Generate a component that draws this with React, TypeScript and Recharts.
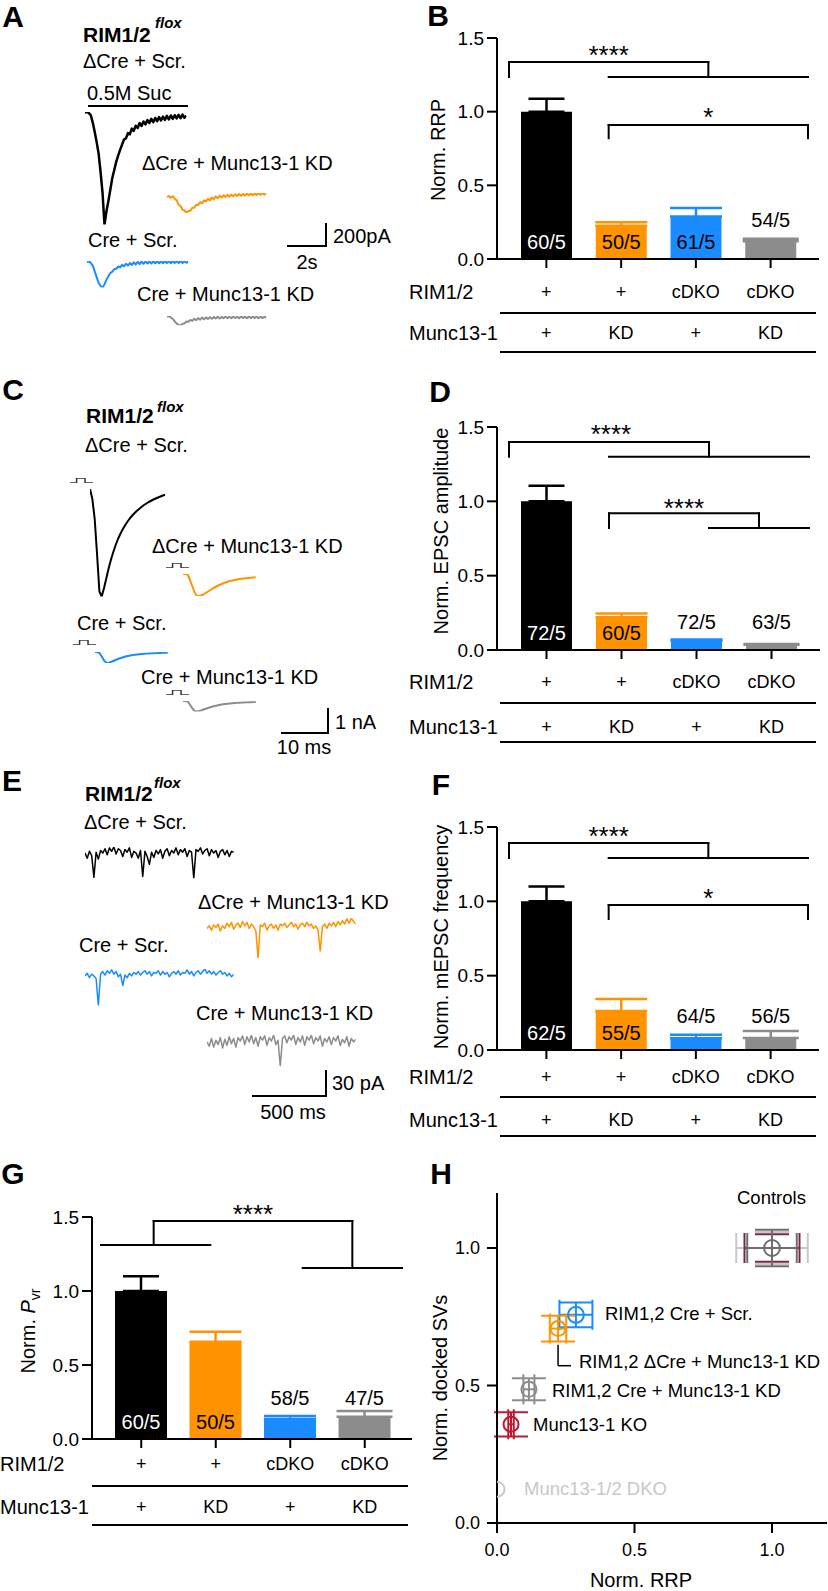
import React from "react";
import {
  BarChart,
  Bar,
  XAxis,
  YAxis,
  ErrorBar,
  LabelList,
  ReferenceLine,
  ReferenceDot,
  LineChart,
  Line,
  ScatterChart,
  Scatter,
} from "recharts";

const FONT = '"Liberation Sans", Arial, Helvetica, sans-serif';

const BLACK = "#000000";
const ORANGE = "#ff9300";
const BLUE = "#1a8cff";
const GRAY = "#8c8c8c";
const BAR_COLORS = [BLACK, ORANGE, BLUE, GRAY];
const INSIDE_TEXT = ["#ffffff", "#000000", "#000000", "#000000"];
const CAP_WIDTHS = [18, 26, 26, 28];

// ---------- groups (same for every bar graph) ----------
const groups = ["ctrl", "munc13kd", "rimcdko", "rimcdkoMunc13kd"];
const rimRow = ["+", "+", "cDKO", "cDKO"];
const muncRow = ["+", "KD", "+", "KD"];

// B: RRP
const rrpMean = [1.0, 0.226, 0.288, 0.12];
const rrpSem = [0.088, 0.024, 0.058, 0.018];
const rrpN = ["60/5", "50/5", "61/5", "54/5"];
const rrpInside = [true, true, true, false];
const rrpBrackets = [
  [0, 1.235, 0, 1.337], [0, 1.337, 2, 1.337], [2, 1.337, 2, 1.235], [1, 1.235, 3, 1.235],
  [1, 0.82, 1, 0.91], [1, 0.91, 3, 0.91], [3, 0.91, 3, 0.82],
];
const rrpStars = [
  { x: 1, y: 1.425, text: "****" },
  { x: 2, y: 1.005, text: "*" },
];

// D: EPSC amplitude
const epscMean = [1.0, 0.22, 0.063, 0.035];
const epscSem = [0.105, 0.025, 0.007, 0.005];
const epscN = ["72/5", "60/5", "72/5", "63/5"];
const epscInside = [true, true, false, false];
const epscBrackets = [
  [0, 1.3, 0, 1.399], [0, 1.399, 2, 1.399], [2, 1.399, 2, 1.3], [1, 1.3, 3, 1.3],
  [1, 0.82, 1, 0.92], [1, 0.92, 2.5, 0.92], [2.5, 0.92, 2.5, 0.82], [2, 0.82, 3, 0.82],
];
const epscStars = [
  { x: 1.02, y: 1.493, text: "****" },
  { x: 1.75, y: 0.995, text: "****" },
];

// F: mEPSC frequency
const miniMean = [1.0, 0.262, 0.079, 0.08];
const miniSem = [0.1, 0.081, 0.024, 0.048];
const miniN = ["62/5", "55/5", "64/5", "56/5"];
const miniInside = [true, true, false, false];
const miniBrackets = [
  [0, 1.291, 0, 1.392], [0, 1.392, 2, 1.392], [2, 1.392, 2, 1.291], [1, 1.291, 3, 1.291],
  [1, 0.881, 1, 0.975], [1, 0.975, 3, 0.975], [3, 0.975, 3, 0.881],
];
const miniStars = [
  { x: 1, y: 1.48, text: "****" },
  { x: 2, y: 1.063, text: "*" },
];

// G: Pvr
const pvrMean = [1.0, 0.657, 0.135, 0.15];
const pvrSem = [0.1, 0.068, 0.02, 0.04];
const pvrN = ["60/5", "50/5", "58/5", "47/5"];
const pvrInside = [true, true, false, false];
const pvrBrackets = [
  [-0.03, 1.311, 1.07, 1.311], [0.5, 1.311, 0.5, 1.473], [0.5, 1.473, 2.5, 1.473],
  [2.5, 1.473, 2.5, 1.155], [2, 1.155, 3, 1.155],
];
const pvrStars = [{ x: 1.5, y: 1.56, text: "****" }];

// H: docked SVs vs RRP
const dockNames = ["ctrlA", "ctrlB", "ctrlC", "creScr", "dCreKd", "creKd", "m13ko", "m13dko"];
const dockRrp = [1, 1, 1, 0.287, 0.222, 0.116, 0.051, 0.0];
const dockSvs = [1, 1, 1, 0.757, 0.707, 0.486, 0.359, 0.123];
const dockRrpErr = [0.13, 0.1, 0.09, 0.06, 0.03, 0.02, 0.01, null];
const dockSvsErr = [0.058, 0.05, 0.066, 0.045, 0.047, 0.04, 0.044, null];
const dockColors = ["#c8c8c8", "#7b2a3c", "#6e6e6e", BLUE, ORANGE, GRAY, "#c0182f", "#c8c8c8"];
const dockRadius = [0, 0, 8, 8, 7.5, 7.5, 7.5, 7.5];

// ---------- traces ----------
// A: sucrose responses, pA, every 0.1 s
const sucDt = 0.1;
const sucCtrl = [0, 4, -6, -25, -90, -170, -260, -360, -520, -700, -975, -860, -770, -670, -570, -500, -430, -375, -325, -280, -235,
  -225, -180, -190, -140, -160, -115, -135, -92, -118, -78, -104, -66, -92, -56, -84, -48, -76, -40, -70, -36, -64, -30, -60, -26, -56, -24, -52, -20, -50, -18, -46, -28];
const sucKd = [0, 10, -6, 8, -14, -30, -66, -80, -112, -115, -138, -120, -118, -92, -92, -66, -68, -44, -52, -28, -38, -14, -28, -4, -18, 6,
  -10, 12, -4, 16, 2, 20, 4, 22, 8, 24, 10, 28, 12, 28, 14, 30, 16, 32, 16, 34, 18, 34, 20, 36, 22, 30];
const sucCre = [0, 10, -6, -30, -80, -130, -180, -205, -218, -190, -150, -118, -92, -80, -58, -56, -36, -44, -22, -34, -12, -28, -6, -22, 0,
  -18, 4, -14, 6, -12, 8, -10, 8, -10, 10, -8, 10, -8, 10, -8, 12, -6, 10, -8, 12, -6, 10, -6, 12, -6, 10, -4, 6];
const sucCreKd = [0, 8, -6, -18, -40, -58, -70, -72, -60, -56, -40, -42, -26, -34, -16, -28, -10, -24, -6, -20, -4, -18, -2, -16, 0, -14,
  2, -14, 0, -12, 4, -12, 2, -12, 4, -10, 2, -12, 4, -10, 2, -12, 4, -10, 2, -10, 4, -12, 2, -10, 2, -8];

// C: evoked EPSCs, nA, every 0.5 ms
const epscDt = 0.5;
const epscCtrl = [0, -0.4, -1.2, -2.6, -4.1, -4.3, -3.95, -3.55, -3.15, -2.8, -2.5, -2.22, -1.98, -1.78, -1.6, -1.44, -1.3, -1.17, -1.06,
  -0.96, -0.87, -0.79, -0.71, -0.64, -0.58, -0.52, -0.47, -0.42, -0.38, -0.34, -0.3, -0.26, -0.23];
const epscKd = [0, 0, -0.02, -0.25, -0.5, -0.75, -0.88, -0.88, -0.85, -0.8, -0.74, -0.68, -0.62, -0.56, -0.51, -0.46, -0.42, -0.38, -0.34,
  -0.31, -0.28, -0.26, -0.24, -0.22, -0.2, -0.19, -0.18, -0.17, -0.16, -0.15, -0.14, -0.13];
const epscCre = [0, 0, -0.05, -0.2, -0.36, -0.44, -0.43, -0.39, -0.35, -0.31, -0.27, -0.24, -0.21, -0.18, -0.16, -0.14, -0.12, -0.11, -0.1,
  -0.09, -0.08, -0.07, -0.065, -0.06, -0.055, -0.05, -0.045, -0.04, -0.04, -0.035, -0.03, -0.03];
const epscCreKd = [0, 0, -0.02, -0.15, -0.3, -0.4, -0.42, -0.4, -0.37, -0.33, -0.3, -0.27, -0.24, -0.21, -0.19, -0.17, -0.15, -0.13, -0.12,
  -0.11, -0.1, -0.09, -0.08, -0.075, -0.07, -0.065, -0.06, -0.055, -0.05, -0.05, -0.045, -0.04];
const stimT = [0, 1.4, 1.4, 3.2, 3.2, 4.9];
const stimV = [0, 0, 1, 1, 0, 0];

// E: mEPSCs, pA, every 15 ms
const miniDt = 15;
const miniCtrl = [0, -6, 2, -3, -28, 1, -7, 3, 0, 5, -2, 6, 2, 7, -1, 5, 3, -4, 4, 1, 6, -5, 2, 0, -6, 3, -27, 2, -4, -13, 1, -5, 3, -1,
  4, -6, 2, 5, -3, 3, 0, 6, -2, 4, 1, 5, -4, 3, 1, -29, 4, 2, 6, -1, 3, 5, -3, 4, 0, 3, -5, 2, 4, -2, 3, -4, 2, 1];
const miniKd = [0, 3, -2, 4, 1, 5, -3, 3, 0, 6, 2, 7, -1, 4, 6, 1, 8, 3, 7, 0, 5, 2, -3, -34, 4, 2, 6, -2, 3, 5, 0, 4, -2, 5, 3, 6, 1,
  4, 7, 2, 5, -1, 4, 6, 2, 7, 3, 5, 0, 3, -2, -26, 2, 5, 0, 6, 3, 7, 2, 8, 4, 9, 5, 11, 6, 12, 8, 5];
const miniCre = [0, 3, -2, 2, 0, -3, -34, 2, 5, 1, 6, 3, 7, 2, 5, -1, 2, -11, 1, -2, 3, 0, 4, 2, 5, 1, 4, 6, 2, 5, 0, 4, 3, 6, 1, 5, 2,
  4, -1, 3, 5, 2, 6, 1, 4, 3, 7, 2, 5, 0, 4, 6, 2, 5, 8, 3, 6, 2, 5, 1, 4, 6, 2, 4, 0, 3, -1, 2];
const miniCreKd = [0, -5, 4, -6, 2, -3, 5, -7, 3, -4, 6, -2, 4, -6, 5, 1, 7, -3, 6, 0, 8, -2, 5, -5, 6, 2, 7, -4, 5, 1, 8, -3, 2, -28,
  4, 7, -1, 6, 2, 8, -3, 5, 0, 7, -4, 6, 2, 8, -2, 5, 1, 7, -5, 4, 0, 6, -3, 5, 1, 7, -4, 3, -1, 6, -5, 4, 0, 3];

// ---------- helpers ----------
const f1 = (v: number) => v.toFixed(1);

function Txt({ x, y, size = 20, anchor = "start", bold = false, italic = false, color = "#000", children }: any) {
  const tx = anchor === "middle" ? "-50%" : anchor === "end" ? "-100%" : "0";
  return (
    <div
      style={{
        position: "absolute",
        left: x,
        top: y - size * 0.5,
        fontSize: size,
        lineHeight: `${size}px`,
        fontWeight: bold ? 700 : 400,
        fontStyle: italic ? "italic" : "normal",
        color,
        whiteSpace: "nowrap",
        transform: `translateX(${tx})`,
      }}
    >
      {children}
    </div>
  );
}

function VLabel({ x, y, size = 20, children }: any) {
  return (
    <div
      style={{
        position: "absolute",
        left: x,
        top: y,
        fontSize: size,
        lineHeight: `${size}px`,
        whiteSpace: "nowrap",
        transform: "translate(-50%, -50%) rotate(-90deg)",
      }}
    >
      {children}
    </div>
  );
}

const HLine = ({ x1, x2, y, w = 2 }: any) => (
  <div style={{ position: "absolute", left: x1, top: y - w / 2, width: x2 - x1, height: w, background: "#000" }} />
);
const VLine = ({ x, y1, y2, w = 2 }: any) => (
  <div style={{ position: "absolute", left: x - w / 2, top: y1, width: w, height: y2 - y1, background: "#000" }} />
);

function Trace({ values, dt, times, x0, baseY, pxX, pxY, color, width = 2 }: any) {
  const pts = values.map((v: number, i: number) => ({ t: times ? times[i] : i * dt, v }));
  const tMax = pts[pts.length - 1].t;
  const vMax = Math.max(...values);
  const vMin = Math.min(...values);
  const pad = 3;
  return (
    <div style={{ position: "absolute", left: x0 - pad, top: baseY - vMax * pxY - pad }}>
      <LineChart
        width={tMax * pxX + 2 * pad}
        height={(vMax - vMin) * pxY + 2 * pad}
        data={pts}
        margin={{ top: pad, right: pad, bottom: pad, left: pad }}
      >
        <XAxis type="number" dataKey="t" domain={[0, tMax]} hide allowDataOverflow />
        <YAxis type="number" domain={[vMin, vMax]} hide allowDataOverflow />
        <Line
          type="linear"
          dataKey="v"
          stroke={color}
          strokeWidth={width}
          strokeLinejoin="round"
          dot={false}
          isAnimationActive={false}
        />
      </LineChart>
    </div>
  );
}

// ---------- bar graph ----------
function BarPanel({ geo, mean, sem, counts, inside, brackets, stars }: any) {
  const mt = 30;
  const yw = 60;
  const xh = 95;
  const mr = 8;
  const left = geo.x1 - yw;
  const top = geo.yTop - mt;
  const width = geo.x2 + mr - left;
  const height = geo.yBot - top + xh;

  const data = groups.map((g, i) => {
    const row: Record<string, any> = { g };
    for (let k = 0; k < 4; k++) {
      row[`v${k}`] = k === i ? mean[i] : 0;
      row[`e${k}`] = k === i ? [0, sem[i]] : undefined;
      row[`n${k}`] = k === i ? counts[i] : undefined;
    }
    return row;
  });

  const renderTick = (p: any) => {
    const i = groups.indexOf(p.payload.value);
    return (
      <g>
        <text x={p.x} y={geo.rowY[0] - top} textAnchor="middle" dominantBaseline="central" fontSize={18} fill="#000">
          {rimRow[i]}
        </text>
        <text x={p.x} y={geo.rowY[1] - top} textAnchor="middle" dominantBaseline="central" fontSize={18} fill="#000">
          {muncRow[i]}
        </text>
      </g>
    );
  };

  // series k only carries a value in group k
  const renderCount = (k: number) => (p: any) => {
    if (p.value == null || p.value === "") return null;
    const vb = p.viewBox ?? p;
    const bottom = vb.y + vb.height;
    const cy = inside[k] ? bottom - 17 : bottom - geo.above;
    return (
      <text
        x={vb.x + vb.width / 2}
        y={cy}
        textAnchor="middle"
        dominantBaseline="central"
        fontSize={20}
        fill={inside[k] ? INSIDE_TEXT[k] : "#000"}
      >
        {p.value}
      </text>
    );
  };

  const starLabel = (text: string) => (p: any) => {
    const vb = p.viewBox ?? p;
    const cx = vb.x + (vb.width || 0) / 2;
    const cy = vb.y + (vb.height || 0) / 2;
    return (
      <text x={cx} y={cy + 26 * 0.57} textAnchor="middle" fontSize={26} fill="#000">
        {text}
      </text>
    );
  };

  return (
    <div style={{ position: "absolute", left, top }}>
      <BarChart width={width} height={height} data={data} margin={{ top: mt, right: mr, bottom: 0, left: 0 }}>
        <XAxis
          dataKey="g"
          type="category"
          padding={{ left: geo.padL, right: geo.padR }}
          height={xh}
          stroke="#000"
          tickSize={9}
          tickLine={{ stroke: "#000", strokeWidth: 2 }}
          axisLine={{ stroke: "#000", strokeWidth: 2 }}
          tick={renderTick}
          interval={0}
        />
        <XAxis
          xAxisId="n"
          type="number"
          domain={[-0.5, 3.5]}
          padding={{ left: geo.padL, right: geo.padR }}
          hide
          allowDataOverflow
        />
        <YAxis
          domain={[0, 1.5]}
          ticks={[0, 0.5, 1, 1.5]}
          tickFormatter={f1}
          width={yw}
          stroke="#000"
          tickSize={10}
          tickMargin={3}
          axisLine={{ stroke: "#000", strokeWidth: 2 }}
          tickLine={{ stroke: "#000", strokeWidth: 2 }}
          tick={{ fill: "#000", fontSize: 19, fontFamily: FONT }}
          allowDataOverflow
        />
        {BAR_COLORS.map((c, k) => (
          <Bar key={k} dataKey={`v${k}`} stackId="s" fill={c} barSize={geo.barSize} isAnimationActive={false}>
            <ErrorBar
              dataKey={`e${k}`}
              direction="y"
              width={CAP_WIDTHS[k]}
              stroke={c}
              strokeWidth={2.5}
              isAnimationActive={false}
            />
            <LabelList dataKey={`n${k}`} content={renderCount(k)} />
          </Bar>
        ))}
        {brackets.map((s: number[], j: number) => (
          <ReferenceLine
            key={`br${j}`}
            xAxisId="n"
            segment={[{ x: s[0], y: s[1] }, { x: s[2], y: s[3] }]}
            stroke="#000"
            strokeWidth={2}
            strokeLinecap="square"
            ifOverflow="visible"
          />
        ))}
        {stars.map((s: any, j: number) => (
          <ReferenceDot
            key={`st${j}`}
            xAxisId="n"
            x={s.x}
            y={s.y}
            r={0}
            fill="none"
            stroke="none"
            ifOverflow="visible"
            label={starLabel(s.text)}
          />
        ))}
      </BarChart>
    </div>
  );
}

function RowLabels({ x, rowY, lineX, lineY }: any) {
  return (
    <>
      <Txt x={x} y={rowY[0]} size={20}>RIM1/2</Txt>
      <Txt x={x} y={rowY[1]} size={20}>Munc13-1</Txt>
      <HLine x1={lineX[0]} x2={lineX[1]} y={lineY[0]} />
      <HLine x1={lineX[0]} x2={lineX[1]} y={lineY[1]} />
    </>
  );
}

// ---------- docking scatter ----------
function DockingPanel() {
  const left = 414;
  const top = 1170;
  const renderCircle = (i: number) => (p: any) =>
    dockRadius[i] > 0 ? (
      <circle cx={p.cx} cy={p.cy} r={dockRadius[i]} fill="none" stroke={dockColors[i]} strokeWidth={2} />
    ) : (
      <g />
    );
  return (
    <div style={{ position: "absolute", left, top }}>
      <ScatterChart width={414} height={393} margin={{ top: 23, right: 1, bottom: 0, left: 0 }}>
        <XAxis
          type="number"
          dataKey="x"
          domain={[0, 1.2]}
          ticks={[0, 0.5, 1]}
          tickFormatter={f1}
          height={40}
          stroke="#000"
          tickSize={10}
          tickMargin={10}
          axisLine={{ stroke: "#000", strokeWidth: 2 }}
          tickLine={{ stroke: "#000", strokeWidth: 2 }}
          tick={{ fill: "#000", fontSize: 18, fontFamily: FONT }}
          allowDataOverflow
        />
        <YAxis
          type="number"
          dataKey="y"
          domain={[0, 1.2]}
          ticks={[0, 0.5, 1]}
          tickFormatter={f1}
          width={83}
          stroke="#000"
          tickSize={10}
          tickMargin={7}
          axisLine={{ stroke: "#000", strokeWidth: 2 }}
          tickLine={{ stroke: "#000", strokeWidth: 2 }}
          tick={{ fill: "#000", fontSize: 18, fontFamily: FONT }}
          allowDataOverflow
        />
        <ReferenceLine segment={[{ x: 0.222, y: 0.648 }, { x: 0.222, y: 0.572 }]} stroke="#000" strokeWidth={1.5} />
        <ReferenceLine segment={[{ x: 0.222, y: 0.572 }, { x: 0.269, y: 0.572 }]} stroke="#000" strokeWidth={1.5} />
        {dockNames.map((name, i) => (
          <Scatter
            key={name}
            name={name}
            data={[
              {
                x: dockRrp[i],
                y: dockSvs[i],
                ex: dockRrpErr[i] ?? undefined,
                ey: dockSvsErr[i] ?? undefined,
              },
            ]}
            shape={renderCircle(i)}
            isAnimationActive={false}
          >
            {dockRrpErr[i] != null && (
              <ErrorBar dataKey="ex" direction="x" width={15} stroke={dockColors[i]} strokeWidth={2} isAnimationActive={false} />
            )}
            {dockSvsErr[i] != null && (
              <ErrorBar dataKey="ey" direction="y" width={17} stroke={dockColors[i]} strokeWidth={2} isAnimationActive={false} />
            )}
          </Scatter>
        ))}
      </ScatterChart>
    </div>
  );
}

export default function App() {
  const traceA = { pxX: 19.5, pxY: 0.115, dt: sucDt };
  const traceC = { pxX: 4.7, pxY: 25, dt: epscDt };
  const traceE = { pxX: 0.148, pxY: 0.867, dt: miniDt };
  const stim = { pxX: 4.7, pxY: 5, times: stimT, color: "#333", width: 1.5 };

  return (
    <div
      style={{
        position: "absolute",
        left: 0,
        top: 0,
        width: 828,
        height: 1591,
        background: "#fff",
        overflow: "hidden",
        fontFamily: FONT,
        color: "#000",
      }}
    >
      {/* panel letters */}
      <Txt x={13} y={16.5} size={30} bold anchor="middle">A</Txt>
      <Txt x={438} y={16} size={30} bold anchor="middle">B</Txt>
      <Txt x={13} y={390} size={30} bold anchor="middle">C</Txt>
      <Txt x={440} y={392} size={30} bold anchor="middle">D</Txt>
      <Txt x={12} y={781} size={30} bold anchor="middle">E</Txt>
      <Txt x={441} y={785} size={30} bold anchor="middle">F</Txt>
      <Txt x={13} y={1174} size={30} bold anchor="middle">G</Txt>
      <Txt x={441} y={1174} size={30} bold anchor="middle">H</Txt>

      {/* A: sucrose */}
      <Txt x={83} y={34} size={21} bold>RIM1/2</Txt>
      <Txt x={155} y={22} size={15} bold italic>flox</Txt>
      <Txt x={83} y={61}>ΔCre + Scr.</Txt>
      <Txt x={87} y={92.5}>0.5M Suc</Txt>
      <HLine x1={88} x2={188} y={106} w={1.5} />
      <Trace {...traceA} values={sucCtrl} x0={85} baseY={112} color={BLACK} width={2.5} />
      <Txt x={142} y={163}>ΔCre + Munc13-1 KD</Txt>
      <Trace {...traceA} values={sucKd} x0={167} baseY={197} color={ORANGE} />
      <Txt x={88} y={239.5}>Cre + Scr.</Txt>
      <Trace {...traceA} values={sucCre} x0={87} baseY={262} color={BLUE} />
      <Txt x={137} y={294}>Cre + Munc13-1 KD</Txt>
      <Trace {...traceA} values={sucCreKd} x0={167} baseY={317} color={GRAY} />
      <HLine x1={287} x2={327} y={246} />
      <VLine x={326} y1={223} y2={247} />
      <Txt x={333} y={236}>200pA</Txt>
      <Txt x={307} y={262} anchor="middle">2s</Txt>

      {/* C: evoked EPSCs */}
      <Txt x={86} y={415} size={21} bold>RIM1/2</Txt>
      <Txt x={157} y={406} size={15} bold italic>flox</Txt>
      <Txt x={85} y={445}>ΔCre + Scr.</Txt>
      <Trace {...stim} values={stimV} x0={70} baseY={483} />
      <Trace {...traceC} values={epscCtrl} x0={90} baseY={489} color={BLACK} />
      <Txt x={152} y={546}>ΔCre + Munc13-1 KD</Txt>
      <Trace {...stim} values={stimV} x0={166} baseY={568} />
      <Trace {...traceC} values={epscKd} x0={183} baseY={574} color={ORANGE} />
      <Txt x={77} y={623}>Cre + Scr.</Txt>
      <Trace {...stim} values={stimV} x0={73} baseY={645} />
      <Trace {...traceC} values={epscCre} x0={95} baseY={652} color={BLUE} />
      <Txt x={141} y={677}>Cre + Munc13-1 KD</Txt>
      <Trace {...stim} values={stimV} x0={166} baseY={695} />
      <Trace {...traceC} values={epscCreKd} x0={183} baseY={701} color={GRAY} />
      <HLine x1={281} x2={329} y={733} />
      <VLine x={328} y1={708} y2={734} />
      <Txt x={335} y={722}>1 nA</Txt>
      <Txt x={304} y={747} anchor="middle">10 ms</Txt>

      {/* E: minis */}
      <Txt x={85} y={793} size={21} bold>RIM1/2</Txt>
      <Txt x={154} y={782} size={15} bold italic>flox</Txt>
      <Txt x={84} y={822}>ΔCre + Scr.</Txt>
      <Trace {...traceE} values={miniCtrl} x0={85} baseY={853} color={BLACK} width={1.5} />
      <Txt x={198} y={902}>ΔCre + Munc13-1 KD</Txt>
      <Trace {...traceE} values={miniKd} x0={207} baseY={928} color={ORANGE} width={1.5} />
      <Txt x={79} y={945}>Cre + Scr.</Txt>
      <Trace {...traceE} values={miniCre} x0={85} baseY={976} color={BLUE} width={1.5} />
      <Txt x={196} y={1013}>Cre + Munc13-1 KD</Txt>
      <Trace {...traceE} values={miniCreKd} x0={207} baseY={1042} color={GRAY} width={1.5} />
      <HLine x1={252} x2={327} y={1096} />
      <VLine x={326} y1={1070} y2={1097} />
      <Txt x={332} y={1083}>30 pA</Txt>
      <Txt x={293} y={1112} anchor="middle">500 ms</Txt>

      {/* B */}
      <BarPanel
        geo={{ x1: 497, x2: 819, yTop: 38, yBot: 259, padL: 12, padR: 11, barSize: 51, above: 39, rowY: [292, 333] }}
        mean={rrpMean}
        sem={rrpSem}
        counts={rrpN}
        inside={rrpInside}
        brackets={rrpBrackets}
        stars={rrpStars}
      />
      <VLabel x={438} y={150}>Norm. RRP</VLabel>
      <RowLabels x={409} rowY={[292, 333]} lineX={[500, 816]} lineY={[313, 352]} />

      {/* D */}
      <BarPanel
        geo={{ x1: 497, x2: 820, yTop: 427, yBot: 650, padL: 12, padR: 11, barSize: 51, above: 28, rowY: [682, 727] }}
        mean={epscMean}
        sem={epscSem}
        counts={epscN}
        inside={epscInside}
        brackets={epscBrackets}
        stars={epscStars}
      />
      <VLabel x={441} y={531}>Norm. EPSC amplitude</VLabel>
      <RowLabels x={409} rowY={[682, 727]} lineX={[500, 816]} lineY={[703, 742]} />

      {/* F */}
      <BarPanel
        geo={{ x1: 497, x2: 819, yTop: 827, yBot: 1050, padL: 12, padR: 11, barSize: 51, above: 34, rowY: [1077, 1120] }}
        mean={miniMean}
        sem={miniSem}
        counts={miniN}
        inside={miniInside}
        brackets={miniBrackets}
        stars={miniStars}
      />
      <VLabel x={441} y={937}>Norm. mEPSC frequency</VLabel>
      <RowLabels x={409} rowY={[1077, 1120]} lineX={[500, 816]} lineY={[1097, 1136]} />

      {/* G */}
      <BarPanel
        geo={{ x1: 92, x2: 412, yTop: 1217, yBot: 1439, padL: 12, padR: 10, barSize: 52, above: 41, rowY: [1464, 1507] }}
        mean={pvrMean}
        sem={pvrSem}
        counts={pvrN}
        inside={pvrInside}
        brackets={pvrBrackets}
        stars={pvrStars}
      />
      <VLabel x={28} y={1331}>
        Norm. <i>P</i>
        <sub style={{ fontSize: 14, lineHeight: 0 }}>vr</sub>
      </VLabel>
      <RowLabels x={0} rowY={[1464, 1507]} lineX={[92, 408]} lineY={[1486, 1525]} />

      {/* H */}
      <DockingPanel />
      <Txt x={737} y={1198} size={18.5}>Controls</Txt>
      <Txt x={605} y={1314} size={18.5}>RIM1,2 Cre + Scr.</Txt>
      <Txt x={579} y={1362} size={18.5}>RIM1,2 ΔCre + Munc13-1 KD</Txt>
      <Txt x={552} y={1391} size={18.5}>RIM1,2 Cre + Munc13-1 KD</Txt>
      <Txt x={533} y={1425} size={18.5}>Munc13-1 KO</Txt>
      <Txt x={524} y={1489} size={18.5} color="#c8c8c8">Munc13-1/2 DKO</Txt>
      <VLabel x={440} y={1378}>Norm. docked SVs</VLabel>
      <Txt x={641} y={1580} anchor="middle">Norm. RRP</Txt>
    </div>
  );
}
